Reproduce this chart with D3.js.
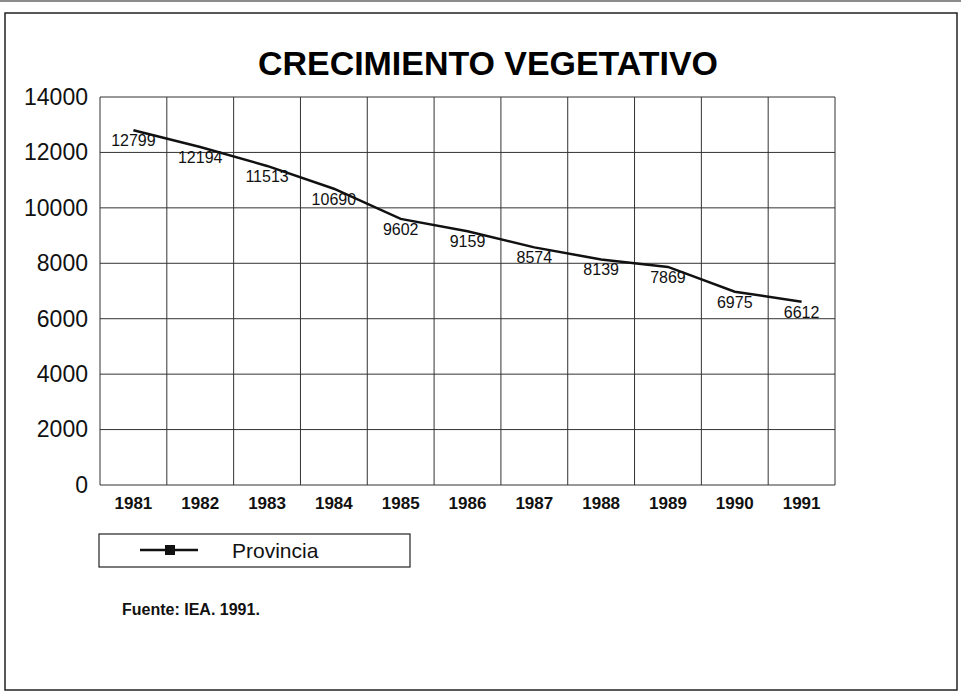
<!DOCTYPE html>
<html>
<head>
<meta charset="utf-8">
<script src="https://d3js.org/d3.v7.min.js"></script>
<style>
  body { margin: 0; background: #fff; }
  svg { display: block; font-family: "Liberation Sans", Arial, sans-serif; }
</style>
</head>
<body>
<div id="chart"></div>
<script>
// data
var years = ["1981", "1982", "1983", "1984", "1985", "1986", "1987", "1988", "1989", "1990", "1991"];
var values = [12799, 12194, 11513, 10690, 9602, 9159, 8574, 8139, 7869, 6975, 6612];
var yTicks = [0, 2000, 4000, 6000, 8000, 10000, 12000, 14000];
var seriesName = "Provincia";

var width = 961, height = 697;
var plot = {left: 100, right: 835, top: 97, bottom: 485};

var svg = d3.select("#chart").append("svg")
  .attr("width", width)
  .attr("height", height);

// frame of the page
svg.append("line")
  .attr("x1", 0).attr("x2", width).attr("y1", 1).attr("y2", 1)
  .attr("stroke", "#666").attr("stroke-width", 1.5);
svg.append("rect")
  .attr("x", 5).attr("y", 13)
  .attr("width", 952).attr("height", 677)
  .attr("fill", "none").attr("stroke", "#222").attr("stroke-width", 1.5);

// title
svg.append("text")
  .attr("x", 488).attr("y", 75)
  .attr("text-anchor", "middle")
  .attr("font-weight", "bold")
  .attr("font-size", 33)
  .attr("textLength", 460)
  .attr("lengthAdjust", "spacingAndGlyphs")
  .text("CRECIMIENTO VEGETATIVO");

// scales
var x = d3.scaleBand()
  .domain(years)
  .range([plot.left, plot.right]);

var y = d3.scaleLinear()
  .domain([0, 14000])
  .range([plot.bottom, plot.top]);

// horizontal grid
svg.append("g")
  .selectAll("line")
  .data(yTicks)
  .join("line")
  .attr("x1", plot.left).attr("x2", plot.right)
  .attr("y1", d => y(d)).attr("y2", d => y(d))
  .attr("stroke", "#333").attr("stroke-width", 1);

// vertical grid
var xEdges = years.map(d => x(d)).concat([plot.right]);
svg.append("g")
  .selectAll("line")
  .data(xEdges)
  .join("line")
  .attr("x1", d => d).attr("x2", d => d)
  .attr("y1", plot.top).attr("y2", plot.bottom)
  .attr("stroke", "#333").attr("stroke-width", 1);

// y axis labels
var yAxis = svg.append("g")
  .attr("transform", "translate(" + (plot.left - 12) + ",0)")
  .call(d3.axisLeft(y).tickValues(yTicks).tickSize(0).tickPadding(0).tickFormat(d3.format("d")));
yAxis.select(".domain").remove();
yAxis.selectAll("text")
  .attr("font-size", 23)
  .attr("font-family", "'Liberation Sans', Arial, sans-serif")
  .attr("fill", "#111");

// x axis labels
var xAxis = svg.append("g")
  .attr("transform", "translate(0," + (plot.bottom + 8) + ")")
  .call(d3.axisBottom(x).tickSize(0).tickPadding(4));
xAxis.select(".domain").remove();
xAxis.selectAll("text")
  .attr("font-size", 17)
  .attr("font-weight", "bold")
  .attr("font-family", "'Liberation Sans', Arial, sans-serif")
  .attr("fill", "#111");

// the line
var cx = d => x(d) + x.bandwidth() / 2;
svg.append("path")
  .datum(values)
  .attr("fill", "none")
  .attr("stroke", "#111")
  .attr("stroke-width", 2.5)
  .attr("d", d3.line()
    .x((d, i) => cx(years[i]))
    .y(d => y(d)));

// value labels
svg.append("g")
  .selectAll("text")
  .data(values)
  .join("text")
  .attr("x", (d, i) => cx(years[i]))
  .attr("y", d => y(d) + 16)
  .attr("text-anchor", "middle")
  .attr("font-size", 16)
  .attr("fill", "#111")
  .text(d => d);

// legend
var legend = svg.append("g");
legend.append("rect")
  .attr("x", 99).attr("y", 534)
  .attr("width", 311).attr("height", 33)
  .attr("fill", "none").attr("stroke", "#222").attr("stroke-width", 1.2);
legend.append("line")
  .attr("x1", 140).attr("x2", 198).attr("y1", 550).attr("y2", 550)
  .attr("stroke", "#111").attr("stroke-width", 2.5);
legend.append("rect")
  .attr("x", 165).attr("y", 545)
  .attr("width", 10).attr("height", 10)
  .attr("fill", "#111");
legend.append("text")
  .attr("x", 232).attr("y", 558)
  .attr("font-size", 21)
  .attr("fill", "#111")
  .text(seriesName);

// source
svg.append("text")
  .attr("x", 122).attr("y", 615)
  .attr("font-size", 16)
  .attr("font-weight", "bold")
  .attr("fill", "#111")
  .text("Fuente: IEA. 1991.");
</script>
</body>
</html>
